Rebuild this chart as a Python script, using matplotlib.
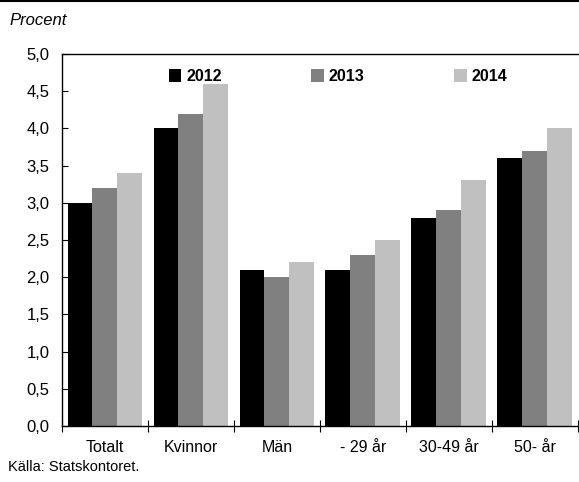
import numpy as np
import matplotlib
matplotlib.use("Agg")
import matplotlib.pyplot as plt
from matplotlib.ticker import FuncFormatter

plt.rcParams['font.family'] = ['Liberation Sans Narrow', 'Liberation Sans', 'DejaVu Sans']

groups = ["Totalt", "Kvinnor", "Män", "- 29 år", "30-49 år", "50- år"]
years = ["2012", "2013", "2014"]
v2012 = [3.0, 4.0, 2.1, 2.1, 2.8, 3.6]
v2013 = [3.2, 4.2, 2.0, 2.3, 2.9, 3.7]
v2014 = [3.4, 4.6, 2.2, 2.5, 3.3, 4.0]
colors = ["#000000", "#808080", "#c0c0c0"]

fig = plt.figure(figsize=(5.79, 4.82), dpi=100)
ax = fig.add_axes([0.107, 0.116, 0.891, 0.772])

x = np.arange(len(groups))
w = 0.29
for i, (vals, c, lab) in enumerate(zip([v2012, v2013, v2014], colors, years)):
    ax.bar(x + (i - 1) * w, vals, width=w, color=c, label=lab)

ax.set_xlim(-0.5, len(groups) - 0.5)
ax.set_ylim(0, 5.0)
ax.set_yticks(np.arange(0, 5.01, 0.5))
ax.yaxis.set_major_formatter(FuncFormatter(lambda v, p: f"{v:.1f}".replace(".", ",")))
ax.tick_params(axis="y", direction="in", length=4, labelsize=12, pad=9)

# category boundaries as crossing ticks, labels centred under groups
ax.set_xticks(np.arange(-0.5, len(groups)), minor=False)
ax.set_xticklabels([])
ax.set_xticks(x, minor=True)
ax.set_xticklabels(groups, minor=True, fontsize=11.5)
ax.tick_params(axis="x", which="major", direction="inout", length=8)
ax.tick_params(axis="x", which="minor", length=0, pad=10)

ax.spines["right"].set_visible(False)
for s in ["top", "left", "bottom"]:
    ax.spines[s].set_linewidth(1.0)

leg = ax.legend(loc="upper center", bbox_to_anchor=(0.535, 0.998), ncol=3, frameon=False,
                handlelength=0.8, handleheight=0.8, handletextpad=0.3, columnspacing=5.6,
                prop={"weight": "bold", "size": 11.5})

fig.text(0.017, 0.958, "Procent", fontsize=12, style="italic", va="center")
fig.text(0.013, 0.032, "Källa: Statskontoret.", fontsize=10.5, va="center")
fig.add_artist(plt.Line2D([0, 1], [0.998, 0.998], color="black", lw=1.5, transform=fig.transFigure))

fig.savefig("out.png", dpi=100)
